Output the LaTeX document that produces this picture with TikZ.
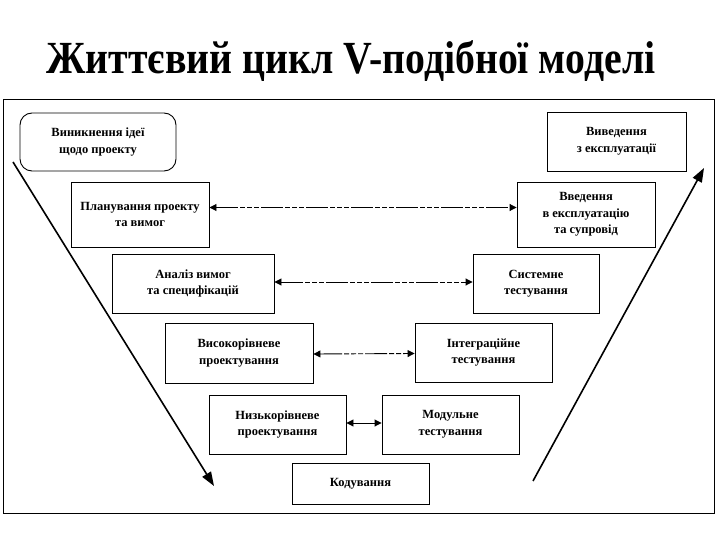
\documentclass[tikz,border=0pt]{standalone}
\usepackage{fontspec}
\setmainfont{Liberation Serif}
\usetikzlibrary{arrows.meta,calc}
\begin{document}
\begin{tikzpicture}[x=1pt,y=-1pt,
  box/.style={draw,line width=0.9pt,rectangle,align=center,font=\bfseries\fontsize{12.5}{16.5}\selectfont,inner sep=2pt},
  link/.style={line width=0.9pt,{Triangle[length=7pt,width=7pt]}-{Triangle[length=7pt,width=7pt]},
    dash pattern=on 22pt off 2pt on 5pt off 2pt on 5pt off 2pt on 5pt off 2pt},
  vline/.style={line width=1.6pt,-{Triangle[length=14pt,width=10pt]}}]
\useasboundingbox (0,0) rectangle (720,540);
\fill[white] (0,0) rectangle (720,540);
\node[font=\bfseries\fontsize{46}{50}\selectfont] (title) at (351,61) {\scalebox{0.865}[1]{Життєвий цикл V-подібної моделі}};
\draw[line width=0.9pt] (3,99) rectangle (714,513);
\node[box,rounded corners=12pt,minimum width=156pt,minimum height=58pt] (idea) at (98,142) {Виникнення ідеї\\щодо проекту};
\node[box,minimum width=138pt,minimum height=65pt] (plan) at (140,214.5) {Планування проекту\\та вимог};
\node[box,minimum width=162pt,minimum height=59pt] (anal) at (193,283.5) {Аналіз вимог\\та специфікацій};
\node[box,minimum width=148pt,minimum height=60pt] (high) at (239,353) {Високорівневе\\проектування};
\node[box,minimum width=137pt,minimum height=59pt] (low) at (277.5,424.5) {Низькорівневе\\проектування};
\node[box,minimum width=137pt,minimum height=41pt] (code) at (360.5,483.5) {Кодування};
\node[box,minimum width=137pt,minimum height=59pt] (unit) at (450.5,424.5) {Модульне\\тестування};
\node[box,minimum width=137pt,minimum height=59pt] (integ) at (483.5,352.5) {Інтеграційне\\тестування};
\node[box,minimum width=126pt,minimum height=59pt] (sys) at (536,283.5) {Системне\\тестування};
\node[box,minimum width=138pt,minimum height=65pt] (oper) at (586,214.5) {Введення\\в експлуатацію\\та супровід};
\node[box,minimum width=139pt,minimum height=59pt] (retire) at (616.5,141.5) {Виведення\\з експлуатації};
\draw[link] ([yshift=7pt]plan.east) -- ([yshift=7pt]oper.west);
\draw[link] ([yshift=1.5pt]anal.east) -- ([yshift=1.5pt]sys.west);
\draw[link] ([yshift=-1pt]high.east) -- ([yshift=-1pt]integ.west);
\draw[link] ([yshift=1.5pt]low.east) -- ([yshift=1.5pt]unit.west);
\coordinate (a1) at (13,162);
\coordinate (a2) at (214,486);
\coordinate (b1) at (533,481);
\coordinate (b2) at (704,168);
\draw[vline] (a1) -- (a2);
\draw[vline] (b1) -- (b2);
\end{tikzpicture}
\end{document}
